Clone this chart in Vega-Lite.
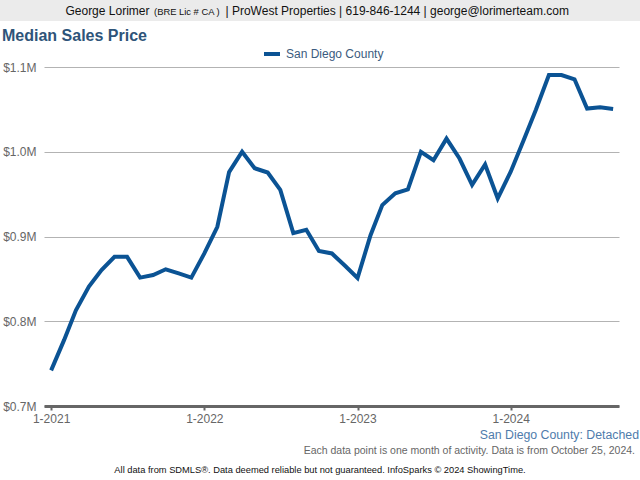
{
  "$schema": "https://vega.github.io/schema/vega-lite/v6.json",
  "padding": 0,
  "spacing": 0,
  "columns": 1,
  "align": "none",
  "bounds": "full",
  "background": "white",
  "resolve": {"legend": {"color": "independent"}, "scale": {"color": "independent", "x": "independent", "y": "independent"}},
  "config": {
    "font": "Liberation Sans",
    "view": {"stroke": null},
    "concat": {"spacing": 0}
  },
  "concat": [
    {
      "width": 596,
      "height": 21,
      "data": {"values": [{"a": "George Lorimer", "b": "(BRE Lic # CA )", "c": "| ProWest Properties | 619-846-1244 | george@lorimerteam.com"}]},
      "layer": [
        {
          "mark": {"type": "rect", "fill": "#ebebeb", "clip": false},
          "encoding": {
            "x": {"datum": -0.0738, "type": "quantitative", "scale": {"domain": [0, 1]}, "axis": null},
            "x2": {"datum": 1}
          }
        },
        {
          "mark": {"type": "text", "fontSize": 12, "color": "#111111", "align": "right", "baseline": "alphabetic", "dy": 4.5},
          "encoding": {"text": {"field": "a"}, "x": {"datum": 0.177, "type": "quantitative"}}
        },
        {
          "mark": {"type": "text", "fontSize": 9.4, "color": "#111111", "align": "left", "baseline": "alphabetic", "dy": 4.5},
          "encoding": {"text": {"field": "b"}, "x": {"datum": 0.1846, "type": "quantitative"}}
        },
        {
          "mark": {"type": "text", "fontSize": 12, "color": "#111111", "align": "left", "baseline": "alphabetic", "dy": 4.5},
          "encoding": {"text": {"field": "c"}, "x": {"datum": 0.3045, "type": "quantitative"}}
        }
      ]
    },
    {
      "width": 575,
      "height": 339,
      "title": {
        "text": ["", "Median Sales Price"],
        "lineHeight": 7,
        "anchor": "start",
        "frame": "bounds",
        "fontSize": 16,
        "fontWeight": "bold",
        "color": "#2e5479",
        "offset": 0,
        "dx": 2
      },
      "data": {
        "values": [
          {"month": "2021-01-01", "price": 742000, "series": "San Diego County"},
          {"month": "2021-02-01", "price": 778000, "series": "San Diego County"},
          {"month": "2021-03-01", "price": 813000, "series": "San Diego County"},
          {"month": "2021-04-01", "price": 841000, "series": "San Diego County"},
          {"month": "2021-05-01", "price": 860500, "series": "San Diego County"},
          {"month": "2021-06-01", "price": 876000, "series": "San Diego County"},
          {"month": "2021-07-01", "price": 876000, "series": "San Diego County"},
          {"month": "2021-08-01", "price": 851500, "series": "San Diego County"},
          {"month": "2021-09-01", "price": 854500, "series": "San Diego County"},
          {"month": "2021-10-01", "price": 861300, "series": "San Diego County"},
          {"month": "2021-11-01", "price": 856500, "series": "San Diego County"},
          {"month": "2021-12-01", "price": 851500, "series": "San Diego County"},
          {"month": "2022-01-01", "price": 880000, "series": "San Diego County"},
          {"month": "2022-02-01", "price": 911500, "series": "San Diego County"},
          {"month": "2022-03-01", "price": 976000, "series": "San Diego County"},
          {"month": "2022-04-01", "price": 1000000, "series": "San Diego County"},
          {"month": "2022-05-01", "price": 980500, "series": "San Diego County"},
          {"month": "2022-06-01", "price": 975500, "series": "San Diego County"},
          {"month": "2022-07-01", "price": 955000, "series": "San Diego County"},
          {"month": "2022-08-01", "price": 904000, "series": "San Diego County"},
          {"month": "2022-09-01", "price": 908000, "series": "San Diego County"},
          {"month": "2022-10-01", "price": 883000, "series": "San Diego County"},
          {"month": "2022-11-01", "price": 880000, "series": "San Diego County"},
          {"month": "2022-12-01", "price": 866000, "series": "San Diego County"},
          {"month": "2023-01-01", "price": 851000, "series": "San Diego County"},
          {"month": "2023-02-01", "price": 901500, "series": "San Diego County"},
          {"month": "2023-03-01", "price": 937000, "series": "San Diego County"},
          {"month": "2023-04-01", "price": 951000, "series": "San Diego County"},
          {"month": "2023-05-01", "price": 955500, "series": "San Diego County"},
          {"month": "2023-06-01", "price": 1000000, "series": "San Diego County"},
          {"month": "2023-07-01", "price": 990000, "series": "San Diego County"},
          {"month": "2023-08-01", "price": 1015500, "series": "San Diego County"},
          {"month": "2023-09-01", "price": 992000, "series": "San Diego County"},
          {"month": "2023-10-01", "price": 961000, "series": "San Diego County"},
          {"month": "2023-11-01", "price": 985000, "series": "San Diego County"},
          {"month": "2023-12-01", "price": 945000, "series": "San Diego County"},
          {"month": "2024-01-01", "price": 976500, "series": "San Diego County"},
          {"month": "2024-02-01", "price": 1014000, "series": "San Diego County"},
          {"month": "2024-03-01", "price": 1049500, "series": "San Diego County"},
          {"month": "2024-04-01", "price": 1090500, "series": "San Diego County"},
          {"month": "2024-05-01", "price": 1090500, "series": "San Diego County"},
          {"month": "2024-06-01", "price": 1085500, "series": "San Diego County"},
          {"month": "2024-07-01", "price": 1051000, "series": "San Diego County"},
          {"month": "2024-08-01", "price": 1052500, "series": "San Diego County"},
          {"month": "2024-09-01", "price": 1050500, "series": "San Diego County"}
        ]
      },
      "mark": {"type": "line", "strokeWidth": 4, "strokeJoin": "miter", "strokeCap": "butt"},
      "encoding": {
        "x": {
          "field": "month",
          "type": "temporal",
          "scale": {
            "type": "utc",
            "domain": [
              {"year": 2020, "month": 12, "date": 15, "utc": true},
              {"year": 2024, "month": 9, "date": 15, "utc": true}
            ]
          },
          "axis": {
            "title": null,
            "grid": false,
            "values": [
              {"year": 2021, "month": 1, "date": 1, "utc": true},
              {"year": 2022, "month": 1, "date": 1, "utc": true},
              {"year": 2023, "month": 1, "date": 1, "utc": true},
              {"year": 2024, "month": 1, "date": 1, "utc": true}
            ],
            "labelExpr": "utcFormat(datum.value, '%-m-%Y')",
            "domainColor": "#666666",
            "domainWidth": 3,
            "tickColor": "#666666",
            "tickWidth": 2,
            "tickSize": 4,
            "labelColor": "#666666",
            "labelFontSize": 12,
            "labelPadding": 3,
            "labelFlush": false
          }
        },
        "y": {
          "field": "price",
          "type": "quantitative",
          "scale": {"domain": [700000, 1100000], "nice": false, "zero": false},
          "axis": {
            "title": null,
            "values": [700000, 800000, 900000, 1000000, 1100000],
            "labelExpr": "'$' + format(datum.value / 1000000, '.1f') + 'M'",
            "domain": false,
            "ticks": false,
            "gridColor": "#b3b3b3",
            "gridWidth": 1,
            "labelColor": "#666666",
            "labelFontSize": 12,
            "labelPadding": 8,
            "minExtent": 44,
            "maxExtent": 44
          }
        },
        "color": {
          "field": "series",
          "type": "nominal",
          "scale": {"range": ["#0b5394"]},
          "legend": {
            "title": null,
            "orient": "none",
            "legendX": 218,
            "legendY": -23,
            "direction": "horizontal",
            "symbolType": "stroke",
            "symbolStrokeWidth": 4,
            "symbolSize": 256,
            "labelFontSize": 12,
            "labelColor": "#3b5b7e",
            "labelOffset": 4,
            "padding": 0
          }
        }
      }
    },
    {
      "width": 595,
      "height": 22,
      "data": {"values": [{"t": "San Diego County: Detached"}]},
      "mark": {"type": "text", "fontSize": 12.3, "color": "#4f7cac", "align": "right"},
      "encoding": {"text": {"field": "t"}, "x": {"value": "width"}}
    },
    {
      "width": 591,
      "height": 10,
      "data": {"values": [{"t": "Each data point is one month of activity. Data is from October 25, 2024."}]},
      "mark": {"type": "text", "fontSize": 10.5, "color": "#666666", "align": "right"},
      "encoding": {"text": {"field": "t"}, "x": {"value": "width"}}
    },
    {
      "width": 552,
      "height": 26,
      "data": {"values": [{"t": "All data from SDMLS®. Data deemed reliable but not guaranteed. InfoSparks © 2024 ShowingTime."}]},
      "mark": {"type": "text", "fontSize": 9.3, "color": "#111111"},
      "encoding": {"text": {"field": "t"}}
    }
  ]
}
